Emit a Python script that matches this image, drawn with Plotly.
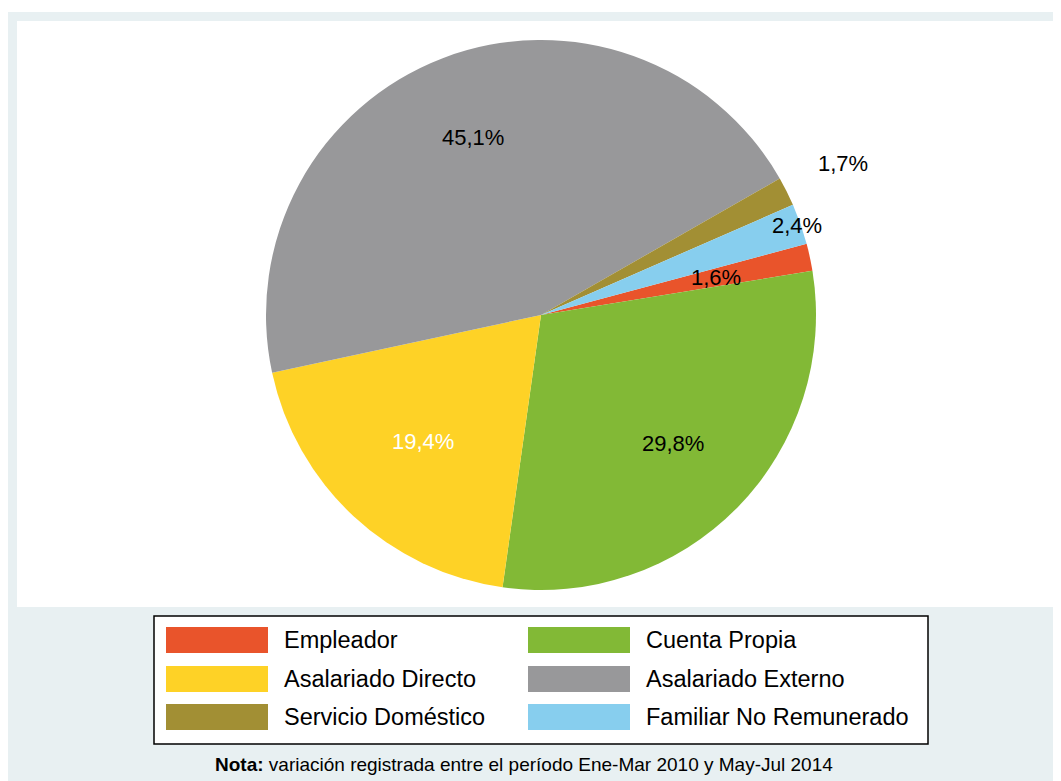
import math

import plotly.graph_objects as go

# categories in slice / legend order
categorias = ['Empleador', 'Cuenta Propia', 'Asalariado Directo', 'Asalariado Externo',
              'Servicio Doméstico', 'Familiar No Remunerado']
porcentajes = [1.6, 29.8, 19.4, 45.1, 1.7, 2.4]
colores = ['#E9542B', '#82B936', '#FED226', '#98989A', '#A28F34', '#87CEEE']
color_texto = ['black', 'black', 'white', 'black', 'black', 'black']
# label distance from centre, as a fraction of the radius
dist_etiqueta = [0.65, 0.67, 0.63, 0.69, 1.23, 0.985]

# page size; the html body adds an 8px offset, so the figure is a bit smaller
PAGE_W, PAGE_H = 1061, 781
OFF = 8
W, H = PAGE_W - OFF, PAGE_H - OFF
FONT = 'Liberation Sans, Arial, sans-serif'


def px_x(x):
    return (x - OFF) / W


def px_y(y):
    return 1 - (y - OFF) / H


# pie geometry (page pixels)
cx, cy, r = 541, 315, 275
rotation = 75

fig = go.Figure(go.Pie(
    labels=categorias,
    values=porcentajes,
    marker=dict(colors=colores, line=dict(width=0)),
    sort=False,
    direction='clockwise',
    rotation=rotation,
    textinfo='none',
    hoverinfo='label+percent',
    domain=dict(x=[px_x(cx - r), px_x(cx + r)], y=[px_y(cy + r), px_y(cy - r)]),
    showlegend=False,
))

# percentage labels placed along each slice's mid angle
annotations = []
total = sum(porcentajes)
start = 90 - rotation
for val, f, col in zip(porcentajes, dist_etiqueta, color_texto):
    span = val / total * 360
    mid = math.radians(start - span / 2)
    start -= span
    annotations.append(dict(
        x=px_x(cx + f * r * math.cos(mid)), y=px_y(cy - f * r * math.sin(mid)),
        xref='paper', yref='paper', xanchor='center', yanchor='middle', showarrow=False,
        text=f"{val:.1f}%".replace('.', ','),
        font=dict(family=FONT, size=22, color=col),
    ))

# background panels
shapes = [
    dict(type='rect', xref='paper', yref='paper', x0=0, x1=1, y0=0, y1=px_y(12),
         fillcolor='#E8F0F2', line=dict(width=0), layer='below'),
    dict(type='rect', xref='paper', yref='paper', x0=px_x(17), x1=1, y0=px_y(607), y1=px_y(21),
         fillcolor='white', line=dict(width=0), layer='below'),
    # legend box
    dict(type='rect', xref='paper', yref='paper', x0=px_x(154), x1=px_x(928), y0=px_y(744), y1=px_y(616),
         fillcolor='white', line=dict(color='black', width=1.5), layer='below'),
]

# hand-built legend: two columns, three rows
col_x = [166, 528]
row_y = [640, 679, 717]
for i, (cat, colr) in enumerate(zip(categorias, colores)):
    x0 = col_x[i % 2]
    yc = row_y[i // 2]
    shapes.append(dict(type='rect', xref='paper', yref='paper',
                       x0=px_x(x0), x1=px_x(x0 + 102), y0=px_y(yc + 13), y1=px_y(yc - 13),
                       fillcolor=colr, line=dict(width=0)))
    annotations.append(dict(x=px_x(x0 + 116), y=px_y(yc), xref='paper', yref='paper',
                            xanchor='left', yanchor='middle', showarrow=False, text=cat,
                            font=dict(family=FONT, size=23.5, color='black')))

annotations.append(dict(
    x=px_x(524), y=px_y(764), xref='paper', yref='paper',
    xanchor='center', yanchor='middle', showarrow=False,
    text='<b>Nota:</b> variación registrada entre el período Ene-Mar 2010 y May-Jul 2014',
    font=dict(family=FONT, size=19, color='black'),
))

fig.update_layout(
    width=W, height=H,
    margin=dict(l=0, r=0, t=0, b=0),
    paper_bgcolor='white',
    plot_bgcolor='white',
    shapes=shapes,
    annotations=annotations,
)

fig.write_html("out.html")
